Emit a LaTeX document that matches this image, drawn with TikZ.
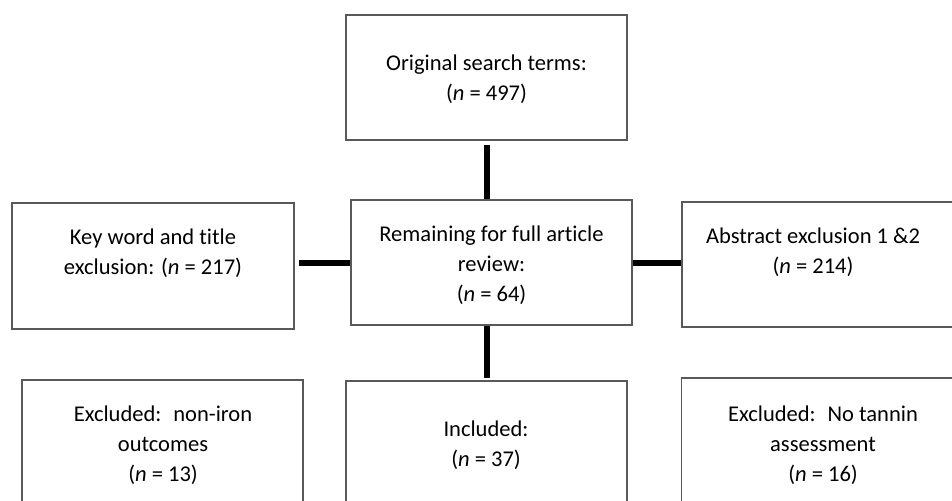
\documentclass[tikz,border=0pt]{standalone}
\usepackage{fontspec}
\setmainfont[Ligatures=CommonOff]{Carlito}
\usetikzlibrary{positioning}

\tikzset{
  box/.style={draw=black!65, line width=1.1pt, fill=none, inner sep=0pt},
  lbl/.style={align=center, inner sep=0.75pt, font=\fontsize{16.9}{22.5}\selectfont},
  link/.style={line width=4.5pt, line cap=butt}
}

\begin{document}
\begin{tikzpicture}[x=0.75pt,y=0.75pt,yscale=-1,xscale=1]
        \useasboundingbox (0,0) rectangle (952,500);
        \clip (0,0) rectangle (952,500);
        % Boxes
        \node [box, minimum width=210.75pt, minimum height=93.75pt] (search) at (486.5,77.5) {};
        \node [box, minimum width=210.75pt, minimum height=93.75pt] (remain) at (491.5,262.5) {};
        \node [box, minimum width=211.5pt, minimum height=94.5pt] (keyword) at (153,266) {};
        \node [box, minimum width=211.5pt, minimum height=93.75pt] (abstract) at (823,264.5) {};
        \node [box, minimum width=210.75pt, minimum height=93.75pt] (noniron) at (162.5,442.5) {};
        \node [box, minimum width=210.75pt, minimum height=93.75pt] (incl) at (486.5,443.5) {};
        \node [box, minimum width=211.5pt, minimum height=93.75pt] (notannin) at (822.5,440.5) {};
        % Text Nodes
        \node [lbl] (searchT) at (486.5,79) {Original search terms:\\(\textit{n} = 497)};
        \node [lbl] (remainT) at (491.5,265.5) {Remaining for full article\\review:\\(\textit{n} = 64)};
        \node [lbl] (keywordT) at (153,253.5) {Key word and title\\exclusion: (\textit{n} = 217)};
        \node [lbl] (abstractT) at (813,252) {Abstract exclusion 1 \&2\\(\textit{n} = 214)};
        \node [lbl] (noniranT) at (163,445) {Excluded:~ non-iron\\outcomes\\(\textit{n} = 13)};
        \node [lbl] (inclT) at (486,445.5) {Included:\\(\textit{n} = 37)};
        \node [lbl] (notanninT) at (823,445) {Excluded:~ No tannin\\assessment\\(\textit{n} = 16)};
        % Connectors
        \draw [link, shorten <=3pt] (search.south) -- (search.south |- remain.north);
        \draw [link, shorten >=3pt] (remain.west) -- (remain.west -| keyword.east);
        \draw [link] (remain.east) -- (remain.east -| abstract.west);
        \draw [link, shorten <=2pt] (incl.north) -- (incl.north |- remain.south);
\end{tikzpicture}
\end{document}
